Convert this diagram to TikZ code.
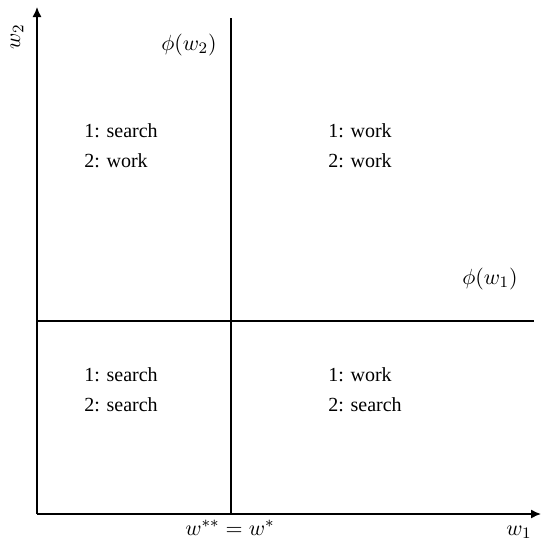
\documentclass[tikz,border=0pt]{standalone}
\usepackage{fontspec}
\setmainfont{Liberation Serif}
\usetikzlibrary{arrows.meta, positioning}

\begin{document}
\begin{tikzpicture}[
  x=0.5pt, y=-0.5pt,
  every node/.style={inner sep=0pt},
  axis/.style={line width=0.7pt, -{Latex[length=5pt,width=4.5pt]}},
  divide/.style={line width=0.6pt},
  choice/.style={anchor=base west, font=\fontsize{10}{12}\selectfont},
  lab/.style={font=\fontsize{11}{13}\selectfont}
]
\useasboundingbox (0,0) rectangle (542,541);

% ---- AXES ----
\coordinate (o) at (37,514);
\coordinate (ytop) at (37,7);
\coordinate (xend) at (541,514);
\draw[axis] (o) -- (ytop);
\draw[axis] (o) -- (xend);
\node[lab, rotate=90, anchor=base] (w2) at (20,37) {$w_2$};
\node[lab, anchor=base] (w1) at (519,535) {$w_1$};

% ---- THRESHOLDS ----
\coordinate (vtop) at (231,18);
\coordinate (vbot) at (231,514);
\coordinate (hleft) at (37,321);
\coordinate (hright) at (534,321);
\draw[divide] (vbot) -- (vtop);
\draw[divide] (hleft) -- (hright);
\node[lab, anchor=base] (wstar) at (230,535) {$w^{**}=w^{*}$};
\node[lab, anchor=base west] (phi2) at (161,50) {$\phi(w_2)$};
\node[lab, anchor=base west] (phi1) at (462,284) {$\phi(w_1)$};

% ---- REGIONS ----
\node[choice] (tl1) at (84,137) {1: search};
\node[choice] (tl2) at (84,167) {2: work};
\node[choice] (tr1) at (328,137) {1: work};
\node[choice] (tr2) at (328,167) {2: work};
\node[choice] (bl1) at (84,381) {1: search};
\node[choice] (bl2) at (84,411) {2: search};
\node[choice] (br1) at (328,381) {1: work};
\node[choice] (br2) at (328,411) {2: search};
\end{tikzpicture}
\end{document}
